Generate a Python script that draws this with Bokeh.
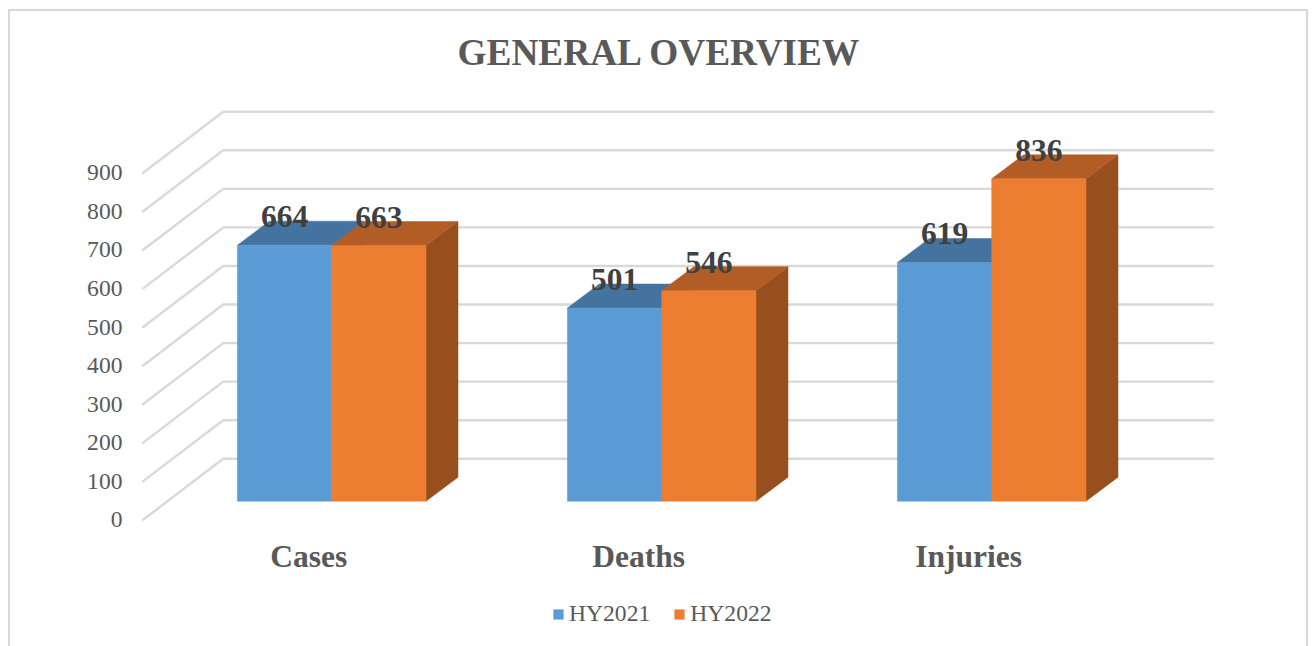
from bokeh.embed import file_html
from bokeh.resources import INLINE
from bokeh.plotting import figure
from bokeh.core.properties import value
from bokeh.models import (Range1d, LinearAxis, FixedTicker, Legend, LegendItem,
                          Title, ColumnDataSource)
import numpy as np

# ---- data ----
categories = ["Cases", "Deaths", "Injuries"]
hy2021 = [664, 501, 619]
hy2022 = [663, 546, 836]
series_names = ["HY2021", "HY2022"]
y_ticks = [0, 100, 200, 300, 400, 500, 600, 700, 800, 900]

# ---- style ----
FONT = "Liberation Serif"
GRID = "#d9d9d9"
TEXT = "#595959"
LABEL = "#404040"
FRONT = ["#5b9bd5", "#ed7d31"]
TOP = ["#4473a0", "#b25d25"]
SIDE = ["#3e6c97", "#97501d"]

# ---- pseudo-3D layout (one category = 330 px, one value unit = 0.3856 px) ----
PX_X, PX_Y = 330.0, 0.3856
W, H = 1314, 646
FL, FR, FT, FB = 132.0, 1300.0, 90.0, 646.0     # frame edges, canvas pixels
X0 = 308.2      # category centre
Y0 = 500.7      # bar base
AX0 = 519.3     # value-axis zero
LABEL_TOP = 532.0  # top of the category labels
bar_w = 94.3 / PX_X
shift = 23.0 / PX_X
depth_x = 32.0 / PX_X
depth_v = 24.0 / PX_Y
wall_v, front_v = 110.0, -50.0
wall_l, wall_r, front_l = (222.7 - X0) / PX_X, (1213.3 - X0) / PX_X, (141.7 - X0) / PX_X

line = f"linear-gradient({GRID},{GRID})"
border_css = (f"{line} 8px 9px/1300px 2px no-repeat, "
              f"{line} 8px 9px/2px 640px no-repeat, "
              f"{line} 1306px 9px/2px 640px no-repeat")

p = figure(width=W, height=H, output_backend="svg", toolbar_location=None,
           x_range=Range1d((FL - X0) / PX_X, (FR - X0) / PX_X),
           y_range=Range1d((Y0 - FB) / PX_Y, (Y0 - FT) / PX_Y),
           frame_width=int(FR - FL), frame_height=int(FB - FT),
           min_border_left=int(FL), min_border_right=int(W - FR),
           min_border_top=int(FT), min_border_bottom=0,
           x_axis_type=None, y_axis_type=None, outline_line_color=None,
           styles={"background": border_css})
p.xgrid.visible = False
p.ygrid.visible = False
p.background_fill_alpha = 0
p.border_fill_alpha = 0

# title
p.title = Title(text="GENERAL OVERVIEW", text_font=FONT, text_font_size="37.3px",
                text_font_style="bold", text_color=TEXT, align="left",
                offset=325, standoff=36)

# value axis on its own range, because its zero sits on the front floor edge
p.extra_y_ranges = {"axis": Range1d((AX0 - FB) / PX_Y, (AX0 - FT) / PX_Y)}
ya = LinearAxis(y_range_name="axis", ticker=FixedTicker(ticks=y_ticks),
                axis_line_color=None, major_tick_line_color=None, minor_tick_line_color=None,
                major_label_text_font=FONT, major_label_text_font_size="23.6px",
                major_label_text_color=TEXT, major_label_standoff=4)
p.add_layout(ya, "left")

# category axis
xa = LinearAxis(ticker=FixedTicker(ticks=list(range(len(categories)))),
                major_label_overrides={i: c for i, c in enumerate(categories)},
                axis_line_color=None, major_tick_line_color=None, minor_tick_line_color=None,
                major_label_text_font=FONT, major_label_text_font_size="31.5px",
                major_label_text_font_style="bold", major_label_text_color=TEXT,
                major_label_standoff=int(LABEL_TOP - FB))
p.add_layout(xa, "below")

# gridlines: floor edge -> back wall -> right end
p.multi_line(xs=[[front_l, wall_l, wall_r] for _ in y_ticks],
             ys=[[t + front_v, t + wall_v, t + wall_v] for t in y_ticks],
             line_color=GRID, line_width=2.4)

idx = np.arange(len(categories), dtype=float)
renderers = []
for s, vals in enumerate([hy2021, hy2022]):
    v = np.array(vals, dtype=float)
    x0 = idx + shift + (s - 1) * bar_w
    x1 = x0 + bar_w
    p.patches(xs=[[a, a + depth_x, b + depth_x, b] for a, b in zip(x1, x1)],
              ys=[[0, depth_v, t + depth_v, t] for t in v],
              fill_color=SIDE[s], line_color=SIDE[s], line_width=0.5)
    p.patches(xs=[[a, b, b + depth_x, a + depth_x] for a, b in zip(x0, x1)],
              ys=[[t, t, t + depth_v, t + depth_v] for t in v],
              fill_color=TOP[s], line_color=TOP[s], line_width=0.5)
    r = p.vbar(x=(x0 + x1) / 2, top=v, bottom=0, width=bar_w,
               fill_color=FRONT[s], line_color=FRONT[s], line_width=0.5)
    renderers.append(r)

for s, vals in enumerate([hy2021, hy2022]):
    v = np.array(vals, dtype=float)
    xc = idx + shift + (s - 0.5) * bar_w
    src = ColumnDataSource(dict(x=xc, y=v + 74, t=[str(a) for a in vals]))
    p.text(x="x", y="y", text="t", source=src, text_font=value(FONT), text_font_size="31.5px",
           text_font_style="bold", text_color=LABEL, text_align="center",
           text_baseline="alphabetic")

legend = Legend(items=[LegendItem(label=n, renderers=[r]) for n, r in zip(series_names, renderers)],
                orientation="horizontal", location=(552 - FL, 19),
                border_line_color=None, background_fill_alpha=0, padding=0, margin=0,
                spacing=23, label_standoff=5, glyph_width=12, glyph_height=12,
                label_text_font=FONT, label_text_font_size="23.6px", label_text_color=TEXT)
p.add_layout(legend, "center")

open("out.html", "w").write(file_html(p, INLINE))
